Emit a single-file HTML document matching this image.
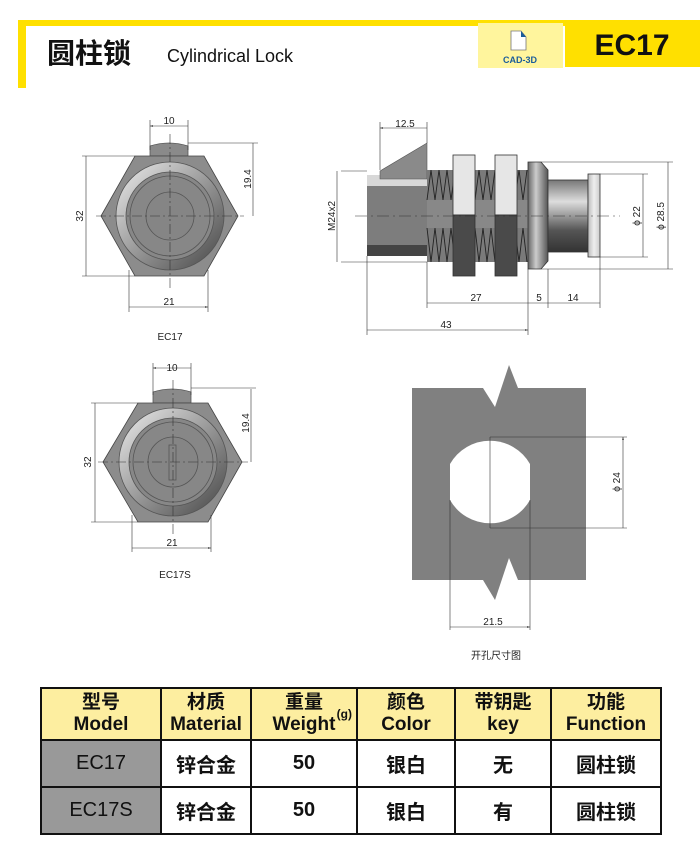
<!DOCTYPE html>
<html><head><meta charset="utf-8"><style>
body{margin:0;background:#fff;}
.w{position:relative;width:700px;height:848px;overflow:hidden;font-family:"Liberation Sans","Noto Sans CJK SC",sans-serif;}
table{position:absolute;left:40px;top:687px;border-collapse:collapse;}
td{border:2px solid #111;text-align:center;padding:0;font-size:20px;color:#111;}
.h td{background:#fdeea0;height:50px;line-height:22px;font-size:19px;font-weight:bold;}
.r td{height:45px;background:#fff;font-weight:bold;}
.r td.g{background:#999;font-weight:normal;}
</style></head><body><div class="w">
<svg width="700" height="848" style="position:absolute;left:0;top:0" font-family="Liberation Sans, sans-serif">
<defs>
<linearGradient id="ring" x1="0" y1="0" x2="1" y2="1"><stop offset="0" stop-color="#eee"/><stop offset="0.5" stop-color="#999"/><stop offset="1" stop-color="#444"/></linearGradient>
<linearGradient id="cyl" x1="0" y1="0" x2="0" y2="1"><stop offset="0" stop-color="#777"/><stop offset="0.3" stop-color="#ddd"/><stop offset="0.7" stop-color="#555"/><stop offset="1" stop-color="#333"/></linearGradient>
<linearGradient id="fl" x1="0" y1="0" x2="1" y2="0"><stop offset="0" stop-color="#666"/><stop offset="0.4" stop-color="#ccc"/><stop offset="1" stop-color="#555"/></linearGradient>
<linearGradient id="er" x1="0" y1="0" x2="1" y2="0"><stop offset="0" stop-color="#bbb"/><stop offset="0.5" stop-color="#eee"/><stop offset="1" stop-color="#ccc"/></linearGradient>
<marker id="a" viewBox="0 0 10 10" refX="10" refY="5" markerWidth="5" markerHeight="5" orient="auto-start-reverse"><path d="M0,2L10,5L0,8z" fill="#333"/></marker>
</defs>
<rect x="18" y="20" width="682" height="6" fill="#ffe000"/>
<rect x="18" y="20" width="8" height="68" fill="#ffe000"/>
<rect x="565" y="20" width="135" height="47" fill="#ffe000"/>
<rect x="478" y="23" width="85" height="45" fill="#fff59d"/>
<path d="M511,31h10l5,6v13h-15z" fill="#fff" stroke="#777" stroke-width="0.8"/><path d="M521,31l5,6h-5z" fill="#1a5c9a"/>
<text x="520" y="63" font-size="9" font-weight="bold" fill="#1a5c9a" text-anchor="middle">CAD-3D</text>
<text x="632" y="55" font-size="30" font-weight="bold" text-anchor="middle" fill="#111">EC17</text>
<text x="47" y="63" font-size="28" font-family="Noto Sans CJK SC, sans-serif" font-weight="bold" fill="#111">圆柱锁</text>
<text x="167" y="62" font-size="18" fill="#111">Cylindrical Lock</text>

<g stroke="#555" stroke-width="0.8">
<path d="M150,156V146Q169,140 188,146V156z" fill="#8a8a8a"/>
<path d="M101,216L135,156H204L238,216L204,276H135z" fill="#8c8c8c" stroke="#444"/>
<circle cx="170" cy="216" r="54" fill="url(#ring)"/>
<circle cx="170" cy="216" r="44" fill="#878787"/>
<circle cx="170" cy="216" r="40" fill="none"/>
<circle cx="170" cy="216" r="24" fill="#858585"/>
</g>
<g stroke="#333" stroke-width="0.6" fill="none">
<path d="M96,216H244M170,134V290" stroke-dasharray="10,3,2,3"/>
<path d="M150,120V150M188,120V150M188,143H258M135,156H82M135,276H82M129,270V312M208,270V312"/>
<path d="M150,126H188M253,143V216M86,156V276M129,307H208" marker-start="url(#a)" marker-end="url(#a)"/>
</g>
<g font-size="10" fill="#222" text-anchor="middle">
<text x="169" y="124">10</text><text x="169" y="305">21</text><text x="170" y="340">EC17</text>
<text transform="translate(251,179) rotate(-90)">19.4</text>
<text transform="translate(83,216) rotate(-90)">32</text>
</g>

<g stroke="#555" stroke-width="0.8">
<path d="M153,403V392Q172,386 191,392V403z" fill="#8a8a8a"/>
<path d="M103,462L138,403H208L242,462L208,522H138z" fill="#8c8c8c" stroke="#444"/>
<circle cx="173" cy="462" r="54" fill="url(#ring)"/>
<circle cx="173" cy="462" r="44" fill="#878787"/>
<circle cx="173" cy="462" r="40" fill="none"/>
<circle cx="173" cy="462" r="25" fill="#858585"/>
<rect x="169" y="445" width="7" height="35" fill="none"/>
</g>
<g stroke="#333" stroke-width="0.6" fill="none">
<path d="M98,462H248M173,380V535" stroke-dasharray="10,3,2,3"/>
<path d="M153,363V395M191,363V395M191,388H256M138,403H91M138,522H91M132,515V552M211,515V552"/>
<path d="M153,368H191M251,389V462M95,403V522M132,548H211" marker-start="url(#a)" marker-end="url(#a)"/>
</g>
<g font-size="10" fill="#222" text-anchor="middle">
<text x="172" y="371">10</text><text x="172" y="546">21</text><text x="175" y="578">EC17S</text>
<text transform="translate(249,423) rotate(-90)">19.4</text>
<text transform="translate(91,462) rotate(-90)">32</text>
</g>

<rect x="367" y="175" width="60" height="81" fill="#7d7d7d"/>
<rect x="367" y="175" width="60" height="11" fill="#d8d8d8"/>
<rect x="367" y="245" width="60" height="11" fill="#444"/>
<path d="M380,171L427,143V179H380z" fill="#8a8a8a" stroke="#555" stroke-width="0.6"/>
<rect x="427" y="170" width="101" height="92" fill="#7a7a7a"/>
<rect x="427" y="200" width="101" height="28" fill="#888"/>
<g fill="none" stroke="#222" stroke-width="0.9">
<path d="M427,200 l4,-30 l4,30 l4,-30 l4,30 l4,-30 l4,30 l4,-30 l4,30 l4,-30 l4,30 l4,-30 l4,30 l4,-30 l4,30 l4,-30 l4,30 l4,-30 l4,30 l4,-30 l4,30 l4,-30 l4,30 l4,-30 l4,30 l4,-30"/>
<path d="M427,228 l4,34 l4,-34 l4,34 l4,-34 l4,34 l4,-34 l4,34 l4,-34 l4,34 l4,-34 l4,34 l4,-34 l4,34 l4,-34 l4,34 l4,-34 l4,34 l4,-34 l4,34 l4,-34 l4,34 l4,-34 l4,34 l4,-34 l4,34"/>
</g>
<g stroke="#333" stroke-width="0.8">
<rect x="453" y="155" width="22" height="60" fill="#e6e6e6"/><rect x="453" y="215" width="22" height="61" fill="#4a4a4a"/>
<rect x="495" y="155" width="22" height="60" fill="#e6e6e6"/><rect x="495" y="215" width="22" height="61" fill="#4a4a4a"/>
<path d="M528,162H541L548,170V261L541,269H528z" fill="url(#fl)"/>
<rect x="548" y="180" width="40" height="72" fill="url(#cyl)"/>
<rect x="588" y="174" width="12" height="83" fill="url(#er)"/>
</g>
<g stroke="#333" stroke-width="0.6" fill="none">
<path d="M355,216H620" stroke-dasharray="12,4,2,4"/>
<path d="M380,122V170M427,122V143M341,171H367M341,262H427M600,174H648M600,257H648M541,162H673M541,269H673M367,256V335M427,262V308M528,269V335M548,269V308M600,257V308"/>
<path d="M380,128H427M337,171V262M643,174V257M668,162V269M427,303H528M528,303H548M548,303H600M367,330H528" marker-start="url(#a)" marker-end="url(#a)"/>
</g>
<g font-size="10" fill="#222" text-anchor="middle">
<text x="405" y="127">12.5</text><text x="476" y="301">27</text><text x="539" y="301">5</text><text x="573" y="301">14</text><text x="446" y="328">43</text>
<text transform="translate(335,216) rotate(-90)">M24x2</text>
<text transform="translate(640,216) rotate(-90)">ϕ 22</text>
<text transform="translate(664,216) rotate(-90)">ϕ 28.5</text>
</g>

<path d="M412,388H483L495,407L509,365L518,388H586V580H518L509,558L495,600L483,580H412z" fill="#808080"/>
<path d="M450,464A46,46 0 0 1 530,464V500A46,46 0 0 1 450,500z" fill="#fff"/>
<g stroke="#333" stroke-width="0.6" fill="none">
<path d="M490,437V528"/>
<path d="M490,437H627M490,528H627M450,500V630M530,500V630"/>
<path d="M623,437V528M450,627H530" marker-start="url(#a)" marker-end="url(#a)"/>
</g>
<g font-size="10" fill="#222" text-anchor="middle">
<text transform="translate(620,482) rotate(-90)">ϕ 24</text>
<text x="493" y="625">21.5</text>
<text x="496" y="659" font-family="Noto Sans CJK SC, sans-serif">开孔尺寸图</text>
</g>
</svg>
<table>
<tr class="h"><td style="width:118px">型号<br>Model</td><td style="width:88px">材质<br>Material</td><td style="width:104px;position:relative">重量<br>Weight<span style="position:absolute;right:4px;top:14px;font-size:12px">(g)</span></td><td style="width:96px">颜色<br>Color</td><td style="width:94px">带钥匙<br>key</td><td style="width:108px">功能<br>Function</td></tr>
<tr class="r"><td class="g">EC17</td><td>锌合金</td><td>50</td><td>银白</td><td>无</td><td>圆柱锁</td></tr>
<tr class="r"><td class="g">EC17S</td><td>锌合金</td><td>50</td><td>银白</td><td>有</td><td>圆柱锁</td></tr>
</table>
</div></body></html>
